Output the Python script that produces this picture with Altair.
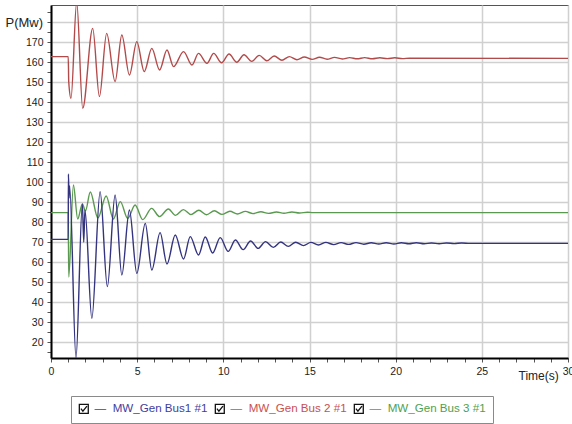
import altair as alt
import pandas as pd

# ---------------- data ----------------
series_names = ["MW_Gen Bus1 #1", "MW_Gen Bus 2 #1", "MW_Gen Bus 3 #1"]
line_colors = ["#33337f", "#b34a4a", "#5a9a50"]
text_colors = ["#40409e", "#c85050", "#4f9f4f"]

bus1_t = [0, 1.0, 1.01, 1.05, 1.08, 1.45, 1.82, 1.90, 1.97, 2.37, 2.85, 3.27, 3.72, 4.11, 4.55,
          4.98, 5.47, 5.85, 6.33, 6.73, 7.21, 7.69, 8.08, 8.56, 8.95, 9.38, 9.82, 10.28, 10.70,
          11.15, 11.58, 12.02, 12.45, 12.90, 13.33, 13.77, 14.20, 14.65, 15.08, 15.52, 15.95,
          16.40, 16.83, 17.27, 17.70, 18.15, 18.58, 19.02, 19.45, 19.90, 20.33, 20.77, 21.20,
          21.65, 22.08, 22.52, 22.95, 23.40, 23.83, 24.30, 30]
bus1_p = [71.3, 71.3, 104.0, 92.0, 98.0, 12.0, 89.0, 70.0, 86.0, 31.8, 95.2, 47.7, 93.5, 53.5, 86.0,
          54.3, 79.3, 56.0, 74.7, 59.0, 73.5, 61.5, 72.7, 63.5, 72.5, 64.5, 72.2, 65.3, 71.0,
          66.2, 70.5, 66.8, 70.2, 67.3, 70.0, 67.8, 69.9, 68.2, 69.8, 68.5, 69.8,
          68.7, 69.7, 68.8, 69.7, 68.9, 69.6, 69.0, 69.6, 69.0, 69.6, 69.1, 69.6,
          69.1, 69.5, 69.1, 69.5, 69.2, 69.5, 69.3, 69.3]

bus2_t = [0, 1.0, 1.03, 1.16, 1.49, 1.84, 2.42, 2.81, 3.23, 3.72, 4.11, 4.55, 4.98, 5.41, 5.85,
          6.30, 6.73, 7.11, 7.69, 8.18, 8.56, 9.05, 9.44, 9.90, 10.33, 10.78, 11.20, 11.65,
          12.08, 12.52, 12.95, 13.40, 13.83, 14.27, 14.70, 15.15, 15.58, 16.02, 16.45, 16.90,
          17.33, 17.77, 18.20, 18.65, 19.08, 19.52, 19.95, 20.40, 20.80, 30]
bus2_p = [162.7, 162.7, 150.0, 141.8, 190.0, 136.8, 176.8, 142.7, 174.3, 150.2, 173.5, 153.5,
          170.2, 155.2, 166.8, 156.0, 166.0, 157.7, 165.2, 158.5, 164.3, 159.3, 164.3, 159.6,
          164.0, 159.9, 163.6, 160.3, 163.3, 160.6, 163.0, 160.9, 162.7, 161.1, 162.5, 161.3,
          162.4, 161.4, 162.3, 161.5, 162.2, 161.6, 162.2, 161.6, 162.1, 161.7, 162.1, 161.7,
          161.9, 161.8]

bus3_t = [0, 1.0, 1.03, 1.30, 1.55, 1.82, 2.00, 2.28, 2.72, 3.20, 3.62, 4.02, 4.45, 4.88, 5.32,
          5.84, 6.30, 6.81, 7.22, 7.68, 8.12, 8.58, 9.02, 9.48, 9.92, 10.38, 10.82, 11.28, 11.72,
          12.18, 12.62, 13.08, 13.52, 13.98, 14.42, 14.88, 15.20, 30]
bus3_p = [84.7, 84.7, 52.5, 98.5, 81.5, 89.0, 85.5, 95.0, 82.0, 93.0, 81.5, 90.2, 81.8, 88.5, 81.2,
          86.8, 82.7, 86.5, 83.3, 86.2, 83.7, 85.9, 83.6, 85.6, 83.8, 85.4, 84.0, 85.3, 84.2,
          85.1, 84.3, 85.0, 84.4, 85.0, 84.5, 84.9, 84.7, 84.7]

x_ticks = list(range(0, 31))
y_ticks = list(range(15, 190, 5))

# ---------------- build table ----------------
frames = []
for name, t, p in zip(series_names, [bus1_t, bus2_t, bus3_t], [bus1_p, bus2_p, bus3_p]):
    frames.append(pd.DataFrame({"t": t, "p": p, "series": name}))
df = pd.concat(frames, ignore_index=True)

FONT = "Liberation Sans"
DASH = "\u2014\u00a0\u00a0"
legend_labels = [DASH + n for n in series_names]

x_enc = alt.X(
    "t:Q",
    scale=alt.Scale(domain=[0, 30], nice=False, zero=False),
    axis=alt.Axis(
        values=x_ticks,
        labelExpr="datum.value % 5 == 0 ? datum.label : ''",
        labelFlush=False,
        gridOpacity={"condition": {"test": "datum.value % 5 == 0", "value": 1}, "value": 0},
        gridColor="#d0d0d0", gridWidth=1.5,
        domainColor="#000000", domainWidth=2,
        tickColor="#555555", tickSize=4, labelPadding=4,
        labelFont=FONT, labelFontSize=10.5, labelColor="#222222",
        title="Time(s)", titleFont=FONT, titleFontSize=12, titleFontWeight="normal",
        titleColor="#222222", titleAnchor="start", titleAlign="left", titleBaseline="middle",
        titleX=467, titleY=17,
    ),
)
y_enc = alt.Y(
    "p:Q",
    scale=alt.Scale(domain=[12, 188.5], nice=False, zero=False),
    axis=alt.Axis(
        values=y_ticks,
        labelExpr="datum.value % 10 == 0 && datum.value != 180 ? datum.label : ''",
        gridOpacity={"condition": {"test": "datum.value % 10 == 0", "value": 1}, "value": 0},
        gridColor="#d0d0d0", gridWidth=1.5,
        domainColor="#000000", domainWidth=2,
        tickColor="#555555", tickSize=4, labelPadding=4,
        labelFont=FONT, labelFontSize=10.5, labelColor="#222222",
        title="P(Mw)", titleFont=FONT, titleFontSize=13, titleFontWeight="normal",
        titleColor="#222222", titleAngle=0, titleAlign="left", titleBaseline="middle",
        titleX=-46, titleY=17,
    ),
)

color_scale = alt.Scale(domain=series_names, range=line_colors)

label_color_expr = (
    f"datum.label == '{legend_labels[0]}' ? '{text_colors[0]}' : "
    f"datum.label == '{legend_labels[1]}' ? '{text_colors[1]}' : '{text_colors[2]}'"
)
checkbox = "M-1,-1H1V1H-1Z M-0.65,-0.05L-0.2,0.5L0.7,-0.6"

legend = alt.Legend(
    orient="none", legendX=20, legendY=391, direction="horizontal", title=None,
    symbolType=checkbox, symbolSize=80, symbolStrokeColor="#111111",
    symbolFillColor="white", symbolStrokeWidth=1.3, symbolOpacity=1,
    labelColor=alt.ExprRef(label_color_expr),
    labelFont=FONT, labelFontSize=11.6, labelOffset=5, columnPadding=4,
    strokeColor="#8a8a8a", fillColor="white", padding=7,
)

layers = []
for name in [series_names[2], series_names[1], series_names[0]]:
    layers.append(
        alt.Chart(df).transform_filter(alt.datum.series == name)
        .mark_line(strokeWidth=1.4, interpolate="monotone", clip=True)
        .encode(x=x_enc, y=y_enc,
                color=alt.Color("series:N", scale=color_scale, legend=None))
    )

legend_layer = (
    alt.Chart(df).transform_calculate(legend_series=f"'{DASH}' + datum.series")
    .mark_point(clip=True)
    .encode(x=x_enc, y=y_enc,
            opacity=alt.value(0),
            shape=alt.Shape("legend_series:N",
                            scale=alt.Scale(domain=legend_labels, range=[checkbox] * 3),
                            legend=legend))
)

chart = (
    alt.layer(*layers, legend_layer)
    .properties(
        width=517, height=353,
        padding={"left": 51, "top": 5, "right": 4, "bottom": 66},
        autosize=alt.AutoSizeParams(type="none"),
        background="white",
    )
    .configure_view(stroke="#555555", strokeWidth=1)
)

chart.save("out.html", embed_options={"renderer": "svg", "actions": False})
